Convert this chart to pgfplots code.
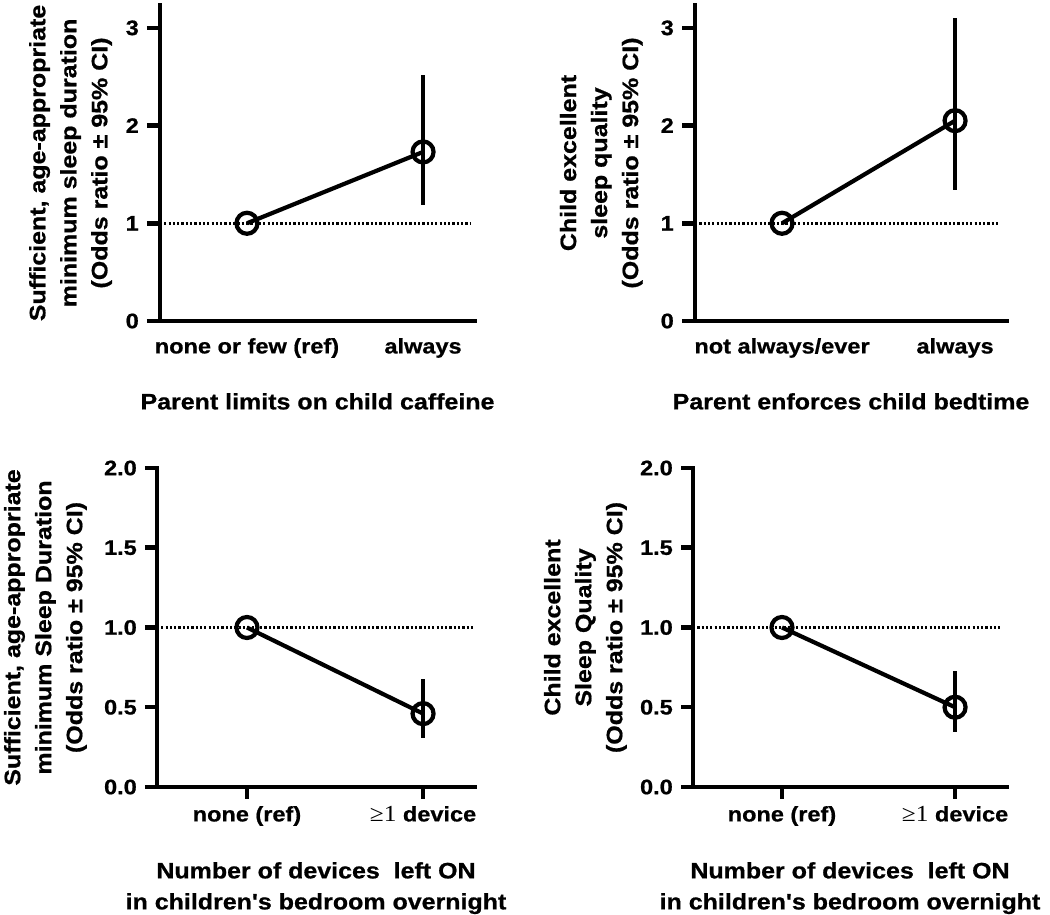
\documentclass[border=0pt]{standalone}
\usepackage{fontspec}
\setmainfont{Liberation Sans}[FakeStretch=1.12, Ligatures=TeXOff, BoldFeatures={FakeBold=0.8}]
\newfontfamily\serifnum{Liberation Serif}[FakeStretch=1.1]
\usepackage{pgfplots}
\pgfplotsset{compat=1.18}

\pgfplotsset{
  panel/.style={
    scale only axis,
    axis x line*=bottom, axis y line*=left,
    axis line style={-, line width=4.5pt, line cap=rect},
    tick align=outside,
    major tick length=13pt,
    tick style={line width=4.5pt, black},
    xtick={0,1},
    ymin=0,
    /pgf/number format/assume math mode=true,
    ticklabel style={font=\bfseries\fontsize{21}{21}\selectfont, inner sep=0pt},
    yticklabel style={xshift=-8pt},
    label style={font=\bfseries\fontsize{22.3}{31}\selectfont, align=center, inner sep=0pt},
    xlabel style={at={(axis description cs:0.5,0)}, anchor=north, yshift=-72pt},
    clip=false,
  },
  ref/.style={black, line width=2.6pt, dash pattern=on 2.2pt off 2.1pt, mark=none, forget plot},
  ebar/.style={black, mark=none, forget plot,
    error bars/.cd, y dir=both, y explicit,
    error bar style={line width=3.2pt, black}, error mark=none},
  est/.style={black, line width=4.2pt, mark=o, mark size=10.5pt,
    mark options={fill=white, line width=4.2pt, solid}},
}

\begin{document}
\begin{tikzpicture}
\path[use as bounding box] (0,0) rectangle (1050pt,915pt);

% top left: caffeine limits
\begin{axis}[panel,
  at={(160pt,594pt)}, anchor=south west,
  width=315pt, height=316pt,
  xmin=-0.494, xmax=1.295, ymax=3.234,
  ytick={0,1,2,3},
  xticklabels={none or few (ref), always},
  xtick style={draw=none},
  xticklabel style={yshift=-4pt},
  ylabel={Sufficient, age-appropriate\\minimum sleep duration\\(Odds ratio ± 95\% CI)},
  ylabel style={at={(axis description cs:-0.152,0.5)}, anchor=south},
  xlabel={Parent limits on child caffeine},
]
\addplot[ref] coordinates {(-0.494,1) (1.27,1)};
\addplot[ebar] coordinates {(1,1.73) += (0,0.79) -= (0,0.54)};
\addplot[est] coordinates {(0,1) (1,1.73)};
\end{axis}

% top right: bedtime enforcement
\begin{axis}[panel,
  at={(695pt,594pt)}, anchor=south west,
  width=312pt, height=316pt,
  xmin=-0.503, xmax=1.30, ymax=3.234,
  ytick={0,1,2,3},
  xticklabels={not always/ever, always},
  xtick style={draw=none},
  xticklabel style={yshift=-4pt},
  ylabel={Child excellent\\sleep quality\\(Odds ratio ± 95\% CI)},
  ylabel style={at={(axis description cs:-0.167,0.5)}, anchor=south},
  xlabel={Parent enforces child bedtime},
]
\addplot[ref] coordinates {(-0.503,1) (1.26,1)};
\addplot[ebar] coordinates {(1,2.05) += (0,1.05) -= (0,0.71)};
\addplot[est] coordinates {(0,1) (1,2.05)};
\end{axis}

% bottom left: devices, sleep duration
\begin{axis}[panel,
  at={(157pt,128pt)}, anchor=south west,
  width=318pt, height=319pt,
  xmin=-0.511, xmax=1.295, ymax=2,
  ytick={0,0.5,1,1.5,2},
  yticklabels={0.0,0.5,1.0,1.5,2.0},
  major tick length=12pt,
  xticklabels={none (ref), {{\serifnum\mdseries\fontsize{23}{23}\selectfont ≥1} device}},
  xticklabel style={yshift=-7pt},
  ylabel={Sufficient, age-appropriate\\minimum Sleep Duration\\(Odds ratio ± 95\% CI)},
  ylabel style={at={(axis description cs:-0.22,0.5)}, anchor=south},
  xlabel={Number of devices\ \ left ON\\in children's bedroom overnight},
  xlabel style={yshift=-3pt},
]
\addplot[ref] coordinates {(-0.511,1) (1.284,1)};
\addplot[ebar] coordinates {(1,0.46) += (0,0.22) -= (0,0.15)};
\addplot[est] coordinates {(0,1) (1,0.46)};
\end{axis}

% bottom right: devices, sleep quality
\begin{axis}[panel,
  at={(693pt,128pt)}, anchor=south west,
  width=314pt, height=319pt,
  xmin=-0.514, xmax=1.30, ymax=2,
  ytick={0,0.5,1,1.5,2},
  yticklabels={0.0,0.5,1.0,1.5,2.0},
  major tick length=12pt,
  xticklabels={none (ref), {{\serifnum\mdseries\fontsize{23}{23}\selectfont ≥1} device}},
  xticklabel style={yshift=-7pt},
  ylabel={Child excellent\\Sleep Quality\\(Odds ratio ± 95\% CI)},
  ylabel style={at={(axis description cs:-0.21,0.5)}, anchor=south},
  xlabel={Number of devices\ \ left ON\\in children's bedroom overnight},
  xlabel style={yshift=-3pt},
]
\addplot[ref] coordinates {(-0.514,1) (1.26,1)};
\addplot[ebar] coordinates {(1,0.50) += (0,0.23) -= (0,0.155)};
\addplot[est] coordinates {(0,1) (1,0.50)};
\end{axis}
\end{tikzpicture}
\end{document}
